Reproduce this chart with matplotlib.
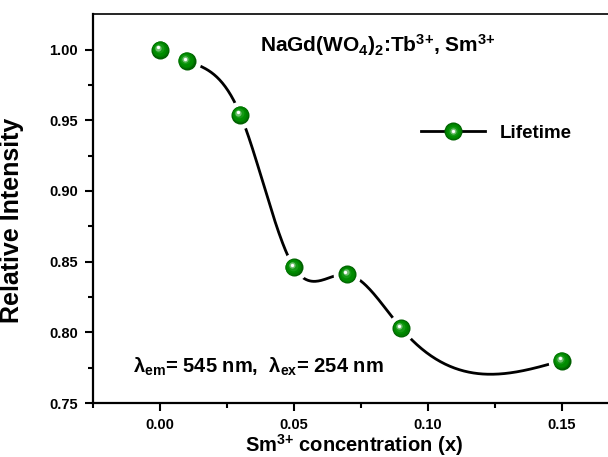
import numpy as np
import matplotlib
matplotlib.use("Agg")
import matplotlib.pyplot as plt
from matplotlib.transforms import offset_copy
from matplotlib.legend_handler import HandlerTuple

plt.rcParams['font.family'] = ['Liberation Sans', 'DejaVu Sans']
plt.rcParams['font.weight'] = 'bold'
plt.rcParams['axes.labelweight'] = 'bold'
plt.rcParams['mathtext.fontset'] = 'custom'
plt.rcParams['mathtext.rm'] = 'Liberation Sans:bold'
plt.rcParams['mathtext.it'] = 'Liberation Sans:bold'
plt.rcParams['mathtext.bf'] = 'Liberation Sans:bold'
plt.rcParams['mathtext.default'] = 'rm'

# data
conc = np.array([0.00, 0.01, 0.03, 0.05, 0.07, 0.09, 0.15])
intensity = np.array([1.000, 0.992, 0.954, 0.846, 0.841, 0.803, 0.780])
x_ticks = [0.00, 0.05, 0.10, 0.15]
y_ticks = [0.75, 0.80, 0.85, 0.90, 0.95, 1.00]


def natural_spline(x, y, xs):
    # plain natural cubic spline, like Origin's spline connect
    n = len(x)
    h = np.diff(x)
    A = np.zeros((n, n))
    b = np.zeros(n)
    A[0, 0] = A[-1, -1] = 1
    for i in range(1, n - 1):
        A[i, i - 1] = h[i - 1]
        A[i, i] = 2 * (h[i - 1] + h[i])
        A[i, i + 1] = h[i]
        b[i] = 3 * ((y[i + 1] - y[i]) / h[i] - (y[i] - y[i - 1]) / h[i - 1])
    c = np.linalg.solve(A, b)
    k = np.clip(np.searchsorted(x, xs) - 1, 0, n - 2)
    d = (c[k + 1] - c[k]) / (3 * h[k])
    bb = (y[k + 1] - y[k]) / h[k] - h[k] * (2 * c[k] + c[k + 1]) / 3
    t = xs - x[k]
    return y[k] + bb * t + c[k] * t**2 + d * t**3


fig = plt.figure(figsize=(6.08, 4.57), dpi=100)
ax = fig.add_axes([0.153, 0.118, 0.859, 0.851])

xs = np.linspace(conc[1], conc[-1], 400)
curve, = ax.plot(xs, natural_spline(conc, intensity, xs), color='black', lw=2, zorder=2)

# white disks give the line gaps around the markers
ax.plot(conc, intensity, 'o', ms=20, color='white', mew=0, zorder=3)

# shaded green spheres
layers = [(13, '#006000', 0, 0), (11.6, '#007c00', -0.3, 0.3), (9.8, '#008c00', -0.6, 0.6),
          (7, '#159915', -1.0, 1.0), (4.5, '#70c070', -1.4, 1.4), (2.4, '#ffffff', -1.6, 1.6)]
sphere = []
for ms, col, dx, dy in layers:
    tr = offset_copy(ax.transData, fig=fig, x=dx, y=dy, units='points')
    m, = ax.plot(conc, intensity, 'o', ms=ms, color=col, mew=0, transform=tr, zorder=4)
    sphere.append(m)

ax.set_xlim(-0.02, 0.17)
ax.set_ylim(0.75, 1.025)
ax.set_xticks(x_ticks)
ax.set_xticklabels(['%.2f' % v for v in x_ticks])
ax.set_yticks(y_ticks)
ax.set_yticklabels(['%.2f' % v for v in y_ticks])
ax.set_xticks(np.arange(-0.025, 0.17, 0.05), minor=True)
ax.set_yticks(np.arange(0.775, 1.02, 0.05), minor=True)
ax.tick_params(which='major', length=6, width=1.5, labelsize=10.5, direction='out', pad=5)
ax.tick_params(which='minor', length=3.5, width=1.5, direction='out')
for s in ['left', 'bottom']:
    ax.spines[s].set_linewidth(1.6)
ax.spines['top'].set_linewidth(1.2)
ax.spines['right'].set_linewidth(1.6)

ax.set_xlabel('Sm$^{3{+}}$ concentration (x)', fontsize=14.5, labelpad=0)
ax.set_ylabel('Relative Intensity', fontsize=18)
ax.yaxis.set_label_coords(-0.132, 0.47)

ax.text(0.32, 0.92, 'NaGd(WO$_4$)$_2$:Tb$^{3{+}}$, Sm$^{3{+}}$', transform=ax.transAxes,
        fontsize=15, ha='left', va='center')
ax.text(0.077, 0.093, 'λ$_{em}$= 545 nm,  λ$_{ex}$= 254 nm', transform=ax.transAxes,
        fontsize=14.5, ha='left', va='center')

ax.legend([tuple([curve] + sphere)], ['Lifetime'], handler_map={tuple: HandlerTuple(ndivide=1)},
          loc='center left', bbox_to_anchor=(421 / 608, 1 - 133 / 457),
          bbox_transform=fig.transFigure, frameon=False, fontsize=13.5,
          handlelength=3.4, handletextpad=0.8, borderpad=0, borderaxespad=0)

fig.savefig('out.png', dpi=100)
